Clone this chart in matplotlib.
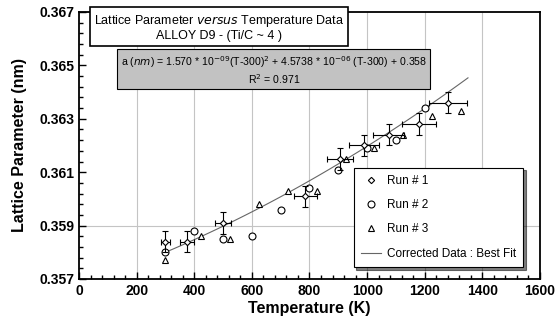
import matplotlib.pyplot as plt
from matplotlib.ticker import AutoMinorLocator, MultipleLocator
from matplotlib.lines import Line2D
import numpy as np

plt.rcParams['font.family'] = ['Liberation Sans', 'DejaVu Sans']

# -----------------------
# DATA
# -----------------------
run1_T = [300, 375, 500, 785, 905, 990, 1075, 1180, 1280]
run1_a = [0.3584, 0.3584, 0.3591, 0.3601, 0.3615, 0.3620, 0.3624, 0.3628, 0.3636]
run1_Terr = [15, 23, 27, 40, 45, 52, 54, 59, 66]
run1_aerr = [0.0004] * 9

run2_T = [300, 400, 500, 600, 700, 800, 900, 1000, 1100, 1200]
run2_a = [0.3580, 0.3588, 0.3585, 0.3586, 0.3596, 0.3604, 0.3611, 0.3619, 0.3622, 0.3634]

run3_T = [300, 425, 525, 625, 725, 825, 925, 1025, 1125, 1225, 1325]
run3_a = [0.3577, 0.3586, 0.3585, 0.3598, 0.3603, 0.3603, 0.3615, 0.3619, 0.3624, 0.3631, 0.3633]

# best fit coefficients printed on the chart
fit_c2 = 1.570e-09
fit_c1 = 4.5738e-06
fit_c0 = 0.358
fit_range = [300, 1350]

y_ticks = [0.357, 0.359, 0.361, 0.363, 0.365, 0.367]
y_ticklabels = ['0.357', '0.359', '0.361', '0.363', '0.365', '0.367']

# -----------------------
# PLOT
# -----------------------
fig = plt.figure(figsize=(5.57, 3.26), dpi=100)
ax = fig.add_axes([0.1418, 0.1442, 0.8277, 0.819])

# grid (only what shows on the scan)
for gx in [200, 400, 600, 800, 1000, 1200, 1400]:
    ax.axvline(gx, color='#c4c4c4', lw=0.8, zorder=0)
ax.axhline(0.359, color='#c4c4c4', lw=0.8, zorder=0)

T_fit = np.linspace(fit_range[0], fit_range[1], 100)
a_fit = fit_c2 * (T_fit - 300) ** 2 + fit_c1 * (T_fit - 300) + fit_c0
ax.plot(T_fit, a_fit, color='#666666', lw=0.8, zorder=2)

ax.errorbar(run1_T, run1_a, xerr=run1_Terr, yerr=run1_aerr, fmt='D', ms=3.2,
            mfc='white', mec='black', mew=0.8, ecolor='black', elinewidth=0.8,
            capsize=2, capthick=0.8, zorder=4)
ax.plot(run2_T, run2_a, 'o', ms=5, mfc='white', mec='black', mew=0.8, zorder=3)
ax.plot(run3_T, run3_a, '^', ms=5, mfc='white', mec='black', mew=0.8, zorder=3)

ax.set_xlim(0, 1600)
ax.set_ylim(0.357, 0.367)
ax.xaxis.set_major_locator(MultipleLocator(200))
ax.set_yticks(y_ticks)
ax.set_yticklabels(y_ticklabels)
ax.xaxis.set_minor_locator(AutoMinorLocator(5))
ax.yaxis.set_minor_locator(AutoMinorLocator(5))
ax.tick_params(which='both', direction='in', top=False, right=False, width=1)
ax.tick_params(which='major', length=5)
ax.tick_params(which='minor', length=3)
for lab in ax.get_xticklabels() + ax.get_yticklabels():
    lab.set_fontweight('bold')
    lab.set_fontsize(10)
for s in ax.spines.values():
    s.set_linewidth(1.3)

ax.set_xlabel("Temperature (K)", fontsize=11.5, fontweight='bold', labelpad=2)
ax.set_ylabel("Lattice Parameter (nm)", fontsize=11.5, fontweight='bold', labelpad=9)

# title box
fig.text(0.393, 0.915, "Lattice Parameter $\\it{versus}$ Temperature Data\nALLOY D9 - (Ti/C ~ 4 )",
         ha='center', va='center', fontsize=9, linespacing=1.15, zorder=10,
         bbox=dict(boxstyle='square,pad=0.3', fc='white', ec='black', lw=1.2))

# equation box
eq = ("a ($\\it{nm}$) = 1.570 * 10$^{-09}$(T-300)$^{2}$ + 4.5738 * 10$^{-06}$ (T-300) + 0.358\n"
      "R$^{2}$ = 0.971")
fig.text(0.4915, 0.785, eq, ha='center', va='center', fontsize=7.6, linespacing=1.15,
         zorder=10,
         bbox=dict(boxstyle='square,pad=0.3', fc='#c2c2c2', ec='black', lw=0.8))

handles = [
    Line2D([], [], ls='none', marker='D', ms=3.2, mfc='white', mec='black', mew=0.8),
    Line2D([], [], ls='none', marker='o', ms=5, mfc='white', mec='black', mew=0.8),
    Line2D([], [], ls='none', marker='^', ms=5, mfc='white', mec='black', mew=0.8),
    Line2D([], [], color='#666666', lw=0.8),
]
leg = ax.legend(handles, ["Run # 1", "Run # 2", "Run # 3", "Corrected Data : Best Fit"],
                loc='lower right', bbox_to_anchor=(0.963, 0.045), fontsize=8.5,
                frameon=True, fancybox=False, shadow={'ox': 2, 'oy': -2, 'color': 'black'},
                edgecolor='black', labelspacing=1.05, handlelength=1.7, borderpad=0.6,
                handletextpad=0.5, borderaxespad=0)
leg.get_frame().set_linewidth(0.8)

fig.savefig("out.png", dpi=100)
